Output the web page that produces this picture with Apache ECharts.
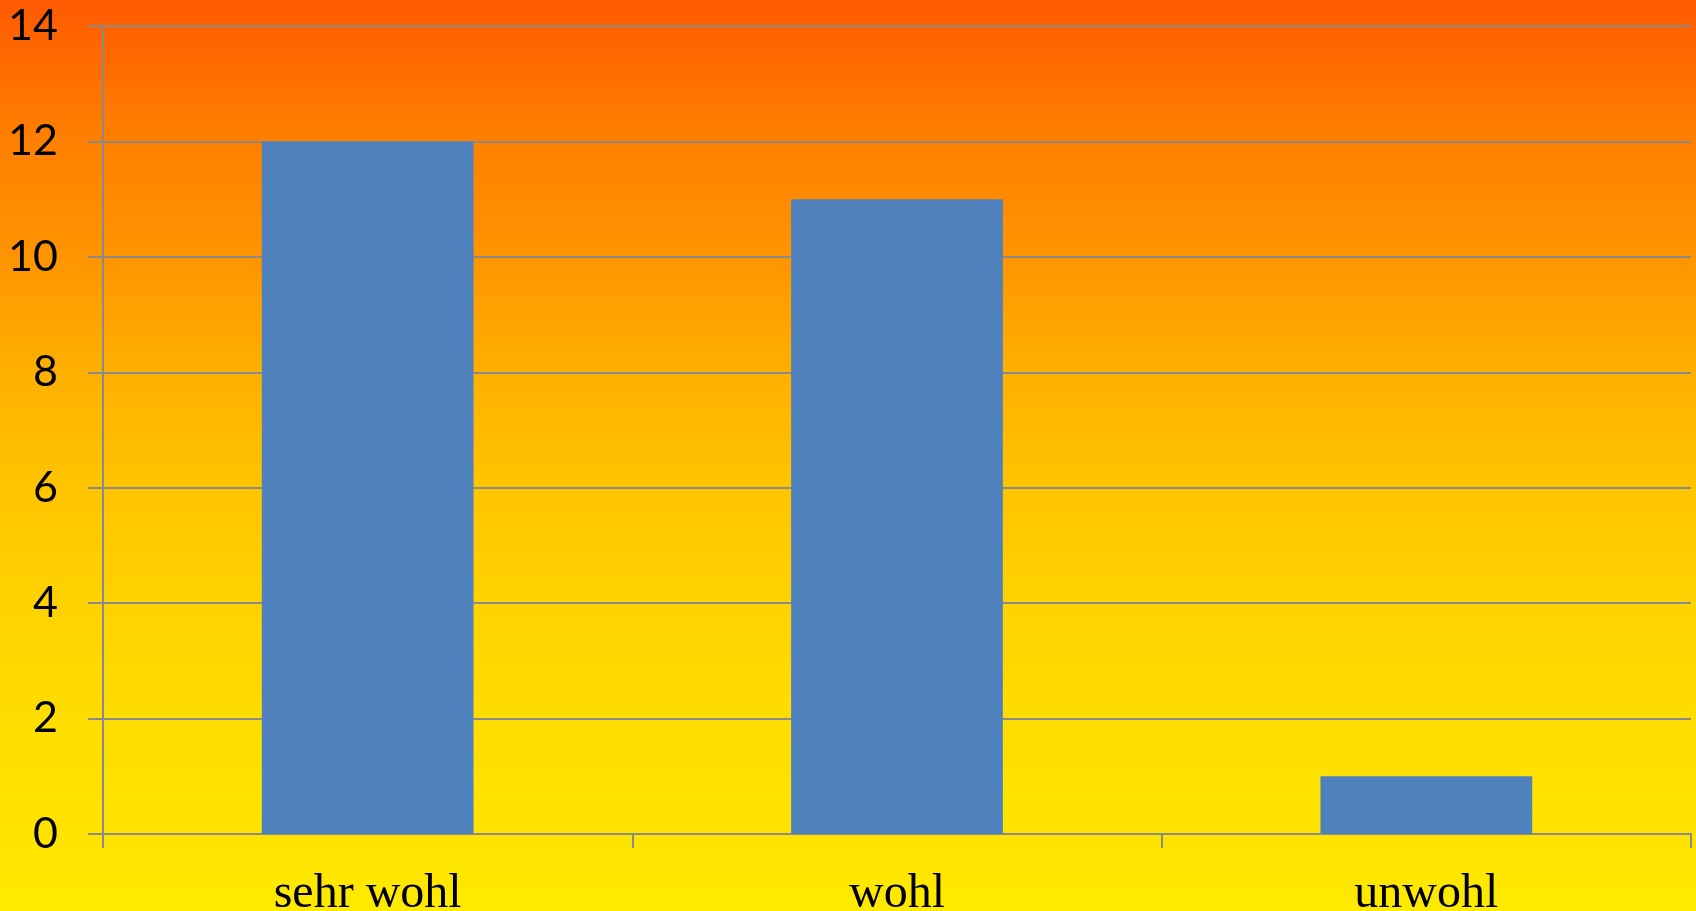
<!DOCTYPE html>
<html>
<head>
<meta charset="utf-8">
<script src="https://cdn.jsdelivr.net/npm/echarts@6/dist/echarts.min.js"></script>
<style>
html,body{margin:0;padding:0;}
#chart{width:1696px;height:911px;}
</style>
</head>
<body>
<div id="chart"></div>
<script>
const categories = ['sehr wohl', 'wohl', 'unwohl'];
const values = [12, 11, 1];
const yMin = 0, yMax = 14, yInterval = 2;

const chart = echarts.init(document.getElementById('chart'));
const axisGray = '#8a8a8a';
chart.setOption({
  animation: false,
  backgroundColor: {
    type: 'linear', x: 0, y: 0, x2: 0, y2: 1,
    colorStops: [
      {offset: 0, color: '#FF5A00'},
      {offset: 0.15, color: '#FF7F00'},
      {offset: 0.28, color: '#FF9400'},
      {offset: 0.41, color: '#FFB000'},
      {offset: 0.535, color: '#FFC400'},
      {offset: 0.66, color: '#FFD200'},
      {offset: 0.79, color: '#FFDD00'},
      {offset: 0.915, color: '#FFE300'},
      {offset: 1, color: '#FFEA00'}
    ]
  },
  grid: {left: 103, right: 5, top: 26, bottom: 77, containLabel: false, outerBoundsMode: 'none'},
  xAxis: {
    type: 'category',
    data: categories,
    axisLine: {show: true, lineStyle: {color: axisGray, width: 2}},
    axisTick: {show: true, length: 14, lineStyle: {color: axisGray, width: 2}, alignWithLabel: false},
    axisLabel: {
      color: '#000', fontFamily: 'Liberation Serif', fontSize: 48, margin: 36
    },
    splitLine: {show: false}
  },
  yAxis: {
    type: 'value',
    min: yMin, max: yMax, interval: yInterval,
    axisLine: {show: true, lineStyle: {color: axisGray, width: 2}},
    axisTick: {show: true, length: 15, lineStyle: {color: axisGray, width: 2}},
    axisLabel: {color: '#000', fontFamily: 'Lato', fontSize: 43, margin: 45},
    splitLine: {show: true, lineStyle: {color: axisGray, width: 2}}
  },
  series: [{
    type: 'bar',
    data: values,
    barCategoryGap: '60%',
    itemStyle: {color: '#4F81BD'}
  }]
});
</script>
</body>
</html>
